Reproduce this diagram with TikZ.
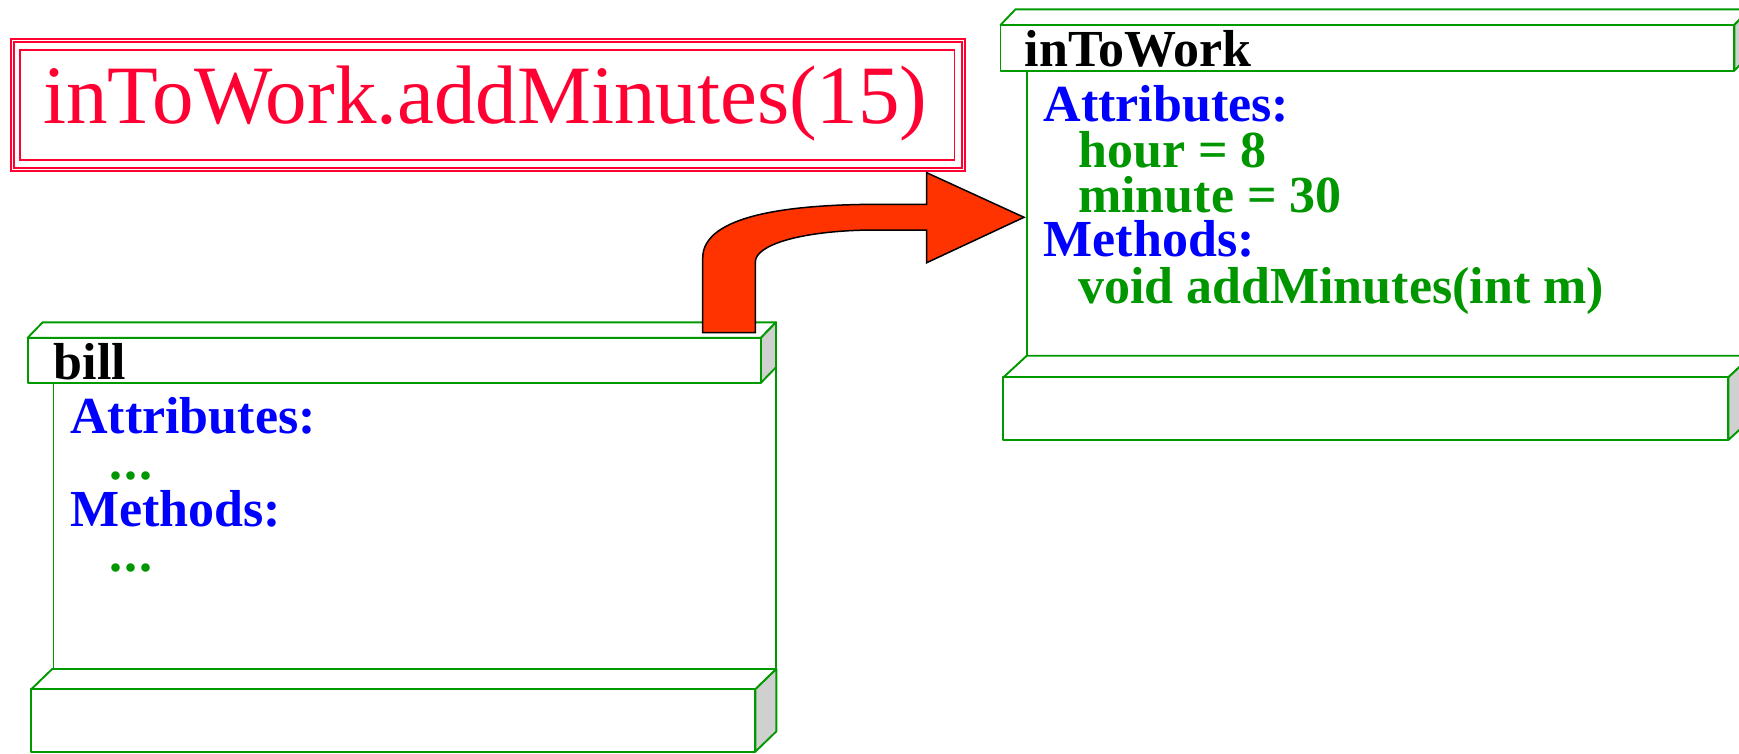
\documentclass[tikz,border=0pt]{standalone}
\usepackage{fontspec}
\setmainfont{Liberation Serif}

\definecolor{boxgreen}{RGB}{0,153,0}
\definecolor{txtgreen}{RGB}{0,150,0}
\definecolor{txtblue}{RGB}{0,0,255}
\definecolor{callred}{RGB}{255,0,51}
\definecolor{arrowfill}{RGB}{255,51,0}
\definecolor{facegray}{RGB}{208,208,208}

\tikzset{
  edge/.style={draw=boxgreen, line width=1.9pt, line join=round},
  sideface/.style={edge, fill=facegray},
  topface/.style={edge, fill=white},
  txt/.style={inner sep=0pt, anchor=base west, text height=0.66em, text depth=0.14em,
    font=\fontsize{52}{56}\selectfont\bfseries},
  objname/.style={txt, text=black},
  section/.style={txt, text=txtblue},
  member/.style={txt, text=txtgreen},
  calltxt/.style={inner sep=0pt, anchor=base west, text=callred, font=\fontsize{83}{88}\selectfont},
  blockarrow/.style={draw=black, line width=1.5pt, line join=miter, fill=arrowfill}
}

% A flat bar seen slightly from above: front face, top face and shaded right face.
% #1,#2 = front top-left corner, #3,#4 = front bottom-right corner, #5,#6 = depth (right, up)
\newcommand\barblock[6]{%
  \draw[topface] (#1,#2) -- (#1+#5,#2-#6) -- (#3+#5,#2-#6) -- (#3,#2) -- cycle;
  \draw[sideface] (#3,#2) -- (#3+#5,#2-#6) -- (#3+#5,#4-#6) -- (#3,#4) -- cycle;
  \draw[topface] (#1,#2) rectangle (#3,#4);
}

\begin{document}
\begin{tikzpicture}[x=1pt, y=-1pt]
  \clip (0,0) rectangle (1739,753);
  \fill[white] (0,0) rectangle (1739,753);

  % method call banner with a triple frame
  \draw[callred, line width=4.6pt] (12.4,40.5) rectangle (963.5,169.7);
  \draw[white, line width=1pt] (12.4,40.5) rectangle (963.5,169.7);
  \draw[callred, line width=1.6pt] (20,49.8) rectangle (954.5,160);
  \node[calltxt] (call) at (43,123) {inToWork.addMinutes(15)};

  % object bill
  \draw[edge] (53.5,382.7) -- (53.5,669);
  \draw[edge] (776,367.3) -- (776,669);
  \barblock{27.7}{337.7}{761}{382.7}{15}{15.4}
  \barblock{31.2}{689.3}{755.3}{751.7}{21}{20.3}
  \node[objname] (billname) at (53.5,379) {bill};
  \node[section] (billattr) at (70,433.3) {Attributes:};
  \node[member] (billattrs) at (109,479.3) {.\kern2pt.\kern2pt.};
  \node[section] (billmeth) at (70,526) {Methods:};
  \node[member] (billmeths) at (109,571.7) {.\kern2pt.\kern2pt.};

  % object inToWork
  \draw[edge] (1027,70.7) -- (1027,355.7);
  \draw[edge] (1750,55) -- (1750,355.7);
  \barblock{1000.5}{25}{1734.3}{70.7}{15}{15.7}
  \barblock{1003.4}{377.3}{1728.3}{440}{23.4}{21.6}
  \node[objname] (workname) at (1024.5,66) {inToWork};
  \node[section] (workattr) at (1043.5,121.7) {Attributes:};
  \node[member] (hour) at (1078,167.3) {hour = 8};
  \node[member] (minute) at (1078,212.7) {minute = 30};
  \node[section] (workmeth) at (1043.5,256.7) {Methods:};
  \node[member] (addmin) at (1078,303.3) {void addMinutes(int m)};

  % bent block arrow from bill to inToWork
  \coordinate (tailL) at (702.7,332.7);
  \coordinate (tailR) at (755.3,332.7);
  \coordinate (tip) at (1024,217.3);
  \draw[blockarrow]
    (tailL) -- (702.7,258)
    .. controls (702.7,215) and (790,204.3) .. (880,204.3)
    -- (926.7,204.3) -- (926.7,172.7) -- (tip) -- (926.7,262.7)
    -- (926.7,230) -- (870,230)
    .. controls (800,231) and (755.3,245) .. (755.3,262)
    -- (tailR) -- cycle;
\end{tikzpicture}
\end{document}
